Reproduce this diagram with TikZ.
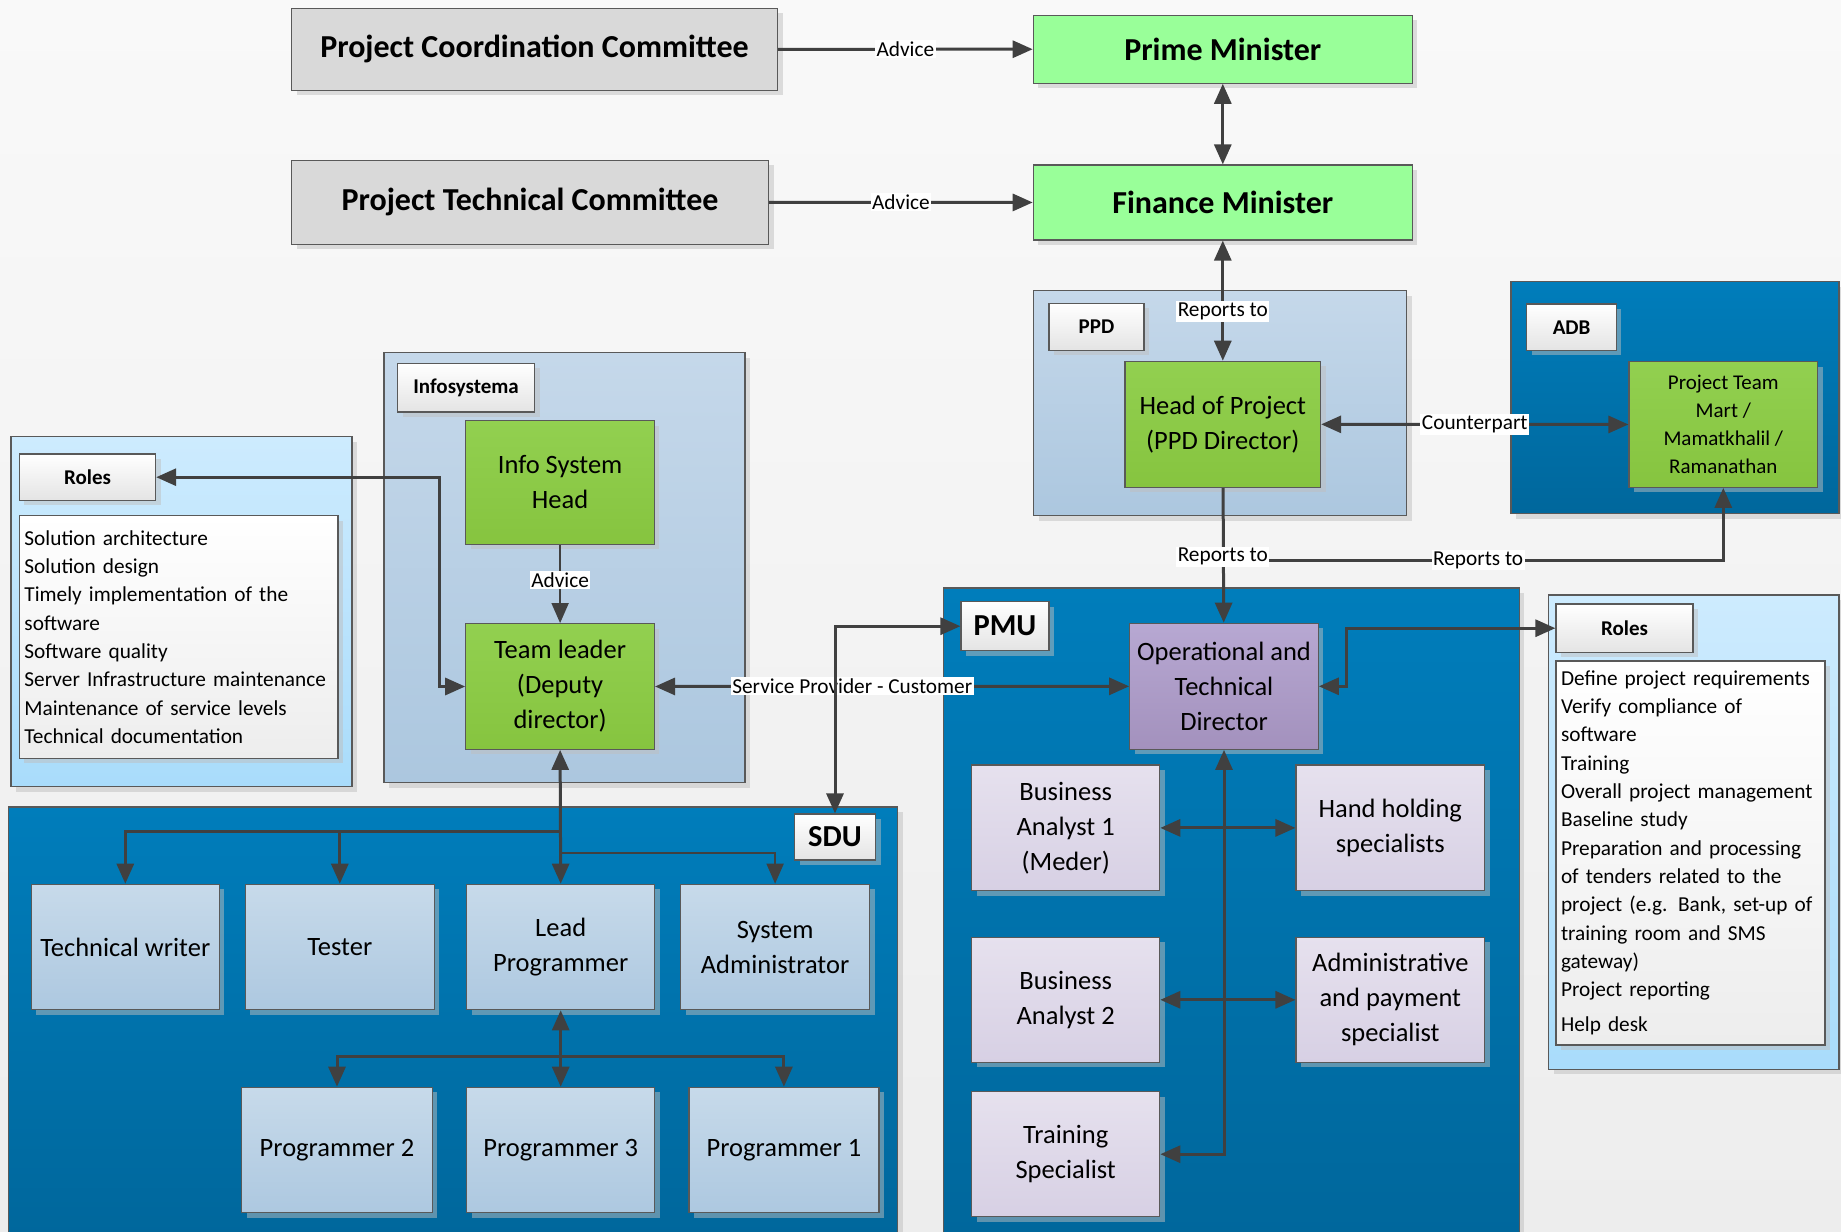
\documentclass[tikz,border=0pt]{standalone}
\usepackage{fontspec}
\setmainfont{Carlito}
\usetikzlibrary{arrows.meta,shadows}

\definecolor{bgtop}{HTML}{F9F9F9}
\definecolor{bgbot}{HTML}{EDEDED}
\definecolor{commgrey}{HTML}{D9D9D9}
\definecolor{mingreen}{HTML}{99FF99}
\definecolor{lgtop}{HTML}{C5D8EA}
\definecolor{lgbot}{HTML}{ACC7DF}
\definecolor{dgtop}{HTML}{007DBB}
\definecolor{dgbot}{HTML}{00679C}
\definecolor{rgtop}{HTML}{CDEBFE}
\definecolor{rgbot}{HTML}{A9DCFB}
\definecolor{grtop}{HTML}{92D050}
\definecolor{grbot}{HTML}{86C43F}
\definecolor{putop}{HTML}{B7A8D2}
\definecolor{pubot}{HTML}{A391BD}
\definecolor{lvtop}{HTML}{E6E1EE}
\definecolor{lvbot}{HTML}{D7D0E4}
\definecolor{sbtop}{HTML}{C7DAEA}
\definecolor{sbbot}{HTML}{ADC8E0}
\definecolor{taggrey}{HTML}{E4E4E4}
\definecolor{arrgrey}{HTML}{404040}

\newcommand{\titlefont}{\fontsize{32}{38}\bfseries\selectfont}
\newcommand{\boxfont}{\fontsize{26.5}{35}\selectfont}
\newcommand{\smallbox}{\fontsize{21}{28}\selectfont}
\newcommand{\tagfont}{\fontsize{21}{26}\bfseries\selectfont}
\newcommand{\unitfont}{\fontsize{30.5}{36}\bfseries\selectfont}
\newcommand{\listfont}{\fontsize{21.3}{28.3}\selectfont}

\begin{document}
\begin{tikzpicture}[x=1pt,y=-1pt]
\tikzset{
  base/.style={draw=black!65, line width=1.2pt, inner sep=0pt, align=center,
    drop shadow={shadow xshift=5pt, shadow yshift=-5pt, fill=gray!50, opacity=.5}},
  sz/.style 2 args={minimum width=#1pt, minimum height=#2pt},
  committee/.style={base, fill=commgrey, font=\titlefont},
  minister/.style={base, fill=mingreen, font=\titlefont},
  lightgroup/.style={base, top color=lgtop, bottom color=lgbot},
  darkgroup/.style={base, top color=dgtop, bottom color=dgbot},
  rolegroup/.style={base, top color=rgtop, bottom color=rgbot},
  tag/.style={base, top color=white, bottom color=taggrey, font=\tagfont},
  unittag/.style={tag, font=\unitfont},
  rolelist/.style={base, top color=white, bottom color=bgbot, font=\listfont, align=left, inner xsep=5pt},
  greenbox/.style={base, top color=grtop, bottom color=grbot, font=\boxfont},
  purplebox/.style={base, top color=putop, bottom color=pubot, font=\boxfont},
  pmubox/.style={base, top color=lvtop, bottom color=lvbot, font=\boxfont},
  sdubox/.style={base, top color=sbtop, bottom color=sbbot, font=\boxfont},
  conn/.style={draw=arrgrey, line width=3pt, -{Triangle[length=20pt,width=17pt]}},
  both/.style={conn, {Triangle[length=20pt,width=17pt]}-{Triangle[length=20pt,width=17pt]}},
  thinconn/.style={conn, line width=1.8pt},
  lbl/.style={fill=white, inner sep=1.5pt, font=\listfont, text=black},
}
\useasboundingbox (0,0) rectangle (1841,1231);
\fill[top color=bgtop, bottom color=bgbot] (0,0) rectangle (1841,1231);

% groups
\node[lightgroup, sz={373}{225}] at (1220.2,403.2) (ppdgrp) {};
\node[darkgroup, sz={328}{232}] at (1674.9,397.7) (adbgrp) {};
\node[lightgroup, sz={361}{430}] at (564.5,567.6) (isgrp) {};
\node[rolegroup, sz={341}{350}] at (181.5,611.7) (lrgrp) {};
\node[darkgroup, sz={576}{648}] at (1231.2,912) (pmugrp) {};
\node[rolegroup, sz={290.5}{474.3}] at (1693.8,832.2) (rrgrp) {};
\node[darkgroup, sz={889}{429}] at (453.3,1021.4) (sdugrp) {};

% top
\node[committee, sz={486}{82}] at (534.5,49.3) (pcc) {Project Coordination Committee};
\node[committee, sz={477}{84}] at (530.1,202.3) (ptc) {Project Technical Committee};
\node[minister, sz={379}{68}] at (1222.8,49.2) (pm) {Prime Minister};
\node[minister, sz={379}{75}] at (1222.8,202.5) (fm) {Finance Minister};

% PPD and ADB
\node[tag, sz={95}{47}] at (1096.5,326.8) (ppdtag) {PPD};
\node[greenbox, sz={195.5}{126}] at (1222.8,424.3) (head) {Head of Project\\(PPD Director)};
\node[tag, sz={89.6}{46.3}] at (1571.6,327.2) (adbtag) {ADB};
\node[greenbox, font=\smallbox, sz={188.6}{125.6}] at (1723.3,424.5) (team) {Project Team\\Mart /\\Mamatkhalil /\\Ramanathan};

% Infosystema
\node[tag, sz={137.2}{48.7}] at (466.1,387.7) (istag) {Infosystema};
\node[greenbox, sz={188.6}{123.6}] at (560.1,482.5) (ish) {Info System\\Head};
\node[greenbox, sz={188.6}{125.6}] at (560.1,686.5) (tl) {Team leader\\(Deputy\\director)};

% roles of Infosystema
\node[tag, sz={136.2}{46.3}] at (87.5,477.2) (lrtag) {Roles};
\node[rolelist, sz={318.5}{242.6}, text width=308.5pt] at (178.7,637) (lrlist) {Solution architecture\\Solution design\\Timely implementation of the\\software\\Software quality\\Server Infrastructure maintenance\\Maintenance of service levels\\Technical documentation};

% PMU
\node[unittag, sz={88}{49}] at (1005,626.2) (pmutag) {PMU};
\node[purplebox, sz={188.5}{126}] at (1224,686.3) (otd) {Operational and\\Technical\\Director};
\node[pmubox, sz={188}{125.7}] at (1065.7,827.9) (ba1) {Business\\Analyst 1\\(Meder)};
\node[pmubox, sz={188.5}{125.7}] at (1390.3,827.9) (hand) {Hand holding\\specialists};
\node[pmubox, sz={188}{125}] at (1065.7,999.8) (ba2) {Business\\Analyst 2};
\node[pmubox, sz={188.5}{125}] at (1390.3,999.8) (admin) {Administrative\\and payment\\specialist};
\node[pmubox, sz={188}{125}] at (1065.7,1154.2) (train) {Training\\Specialist};

% roles of PMU
\node[tag, sz={137}{48.3}] at (1624.5,628.2) (rrtag) {Roles};
\node[rolelist, sz={269}{384}, text width=259pt] at (1690.5,853) (rrlist) {Define project requirements\\Verify compliance of\\software\\Training\\Overall project management\\Baseline study\\Preparation and processing\\of tenders related to the\\project (e.g. Bank, set-up of\\training room and SMS\\gateway)\\Project reporting\\[7pt]Help desk};

% SDU
\node[unittag, sz={81}{46}] at (835,837) (sdutag) {SDU};
\node[sdubox, sz={188.3}{125.4}] at (125.3,947) (tw) {Technical writer};
\node[sdubox, sz={189}{125.4}] at (339.8,947) (tester) {Tester};
\node[sdubox, sz={188.3}{125.4}] at (560.7,947) (lp) {Lead\\Programmer};
\node[sdubox, sz={189}{125.4}] at (775.1,947) (sa) {System\\Administrator};
\node[sdubox, sz={190.7}{125.4}] at (337,1150) (p2) {Programmer 2};
\node[sdubox, sz={188.3}{125.4}] at (560.7,1150) (p3) {Programmer 3};
\node[sdubox, sz={190}{125.4}] at (783.9,1150) (p1) {Programmer 1};

\coordinate (rjoin) at (1223,560);
\coordinate (lbend) at (439,477.2);
\coordinate (obend) at (1346,686.3);
\coordinate (sjoin) at (560.4,831);
\coordinate (sajoin) at (560.4,853);
\coordinate (pjoin) at (560.7,1056);

% connectors
\draw[conn] (pcc) -- (pm) node[lbl, midway] {Advice};
\draw[conn] (ptc) -- (fm) node[lbl, midway] {Advice};
\draw[both] (pm) -- (fm);
\draw[both] (head) -- (fm) node[lbl, pos=.41] {Reports to};
\draw[both] (head) -- (team) node[lbl, midway] {Counterpart};
\draw[conn] (head) -- (otd);
\draw[conn] (rjoin) -| (team) node[lbl, pos=.255] {Reports to};
\node[lbl] at (1222.8,556.7) (rlabel) {Reports to};
\draw[thinconn] (ish) -- (tl) node[lbl, pos=.45] {Advice};
\draw[both] (lrtag.east) -- (lbend) |- (tl.west);
\draw[both] (tl) -- (otd) node[lbl, pos=.416] {Service Provider - Customer};
\draw[both] (sdutag.north) |- (pmutag.west);
\draw[both] (otd.east) -- (obend) |- (rrtag.west);
\draw[both] (otd.south) |- (train.east);
\draw[both] (ba1) -- (hand);
\draw[both] (ba2) -- (admin);
\draw[both] (tl.south) -- (lp.north);
\draw[conn] (sjoin) -| (tw.north);
\draw[conn] (sjoin) -| (tester.north);
\draw[thinconn] (sajoin) -| (sa.north);
\draw[both] (lp.south) -- (p3.north);
\draw[conn] (pjoin) -| (p2.north);
\draw[conn] (pjoin) -| (p1.north);
\end{tikzpicture}
\end{document}
